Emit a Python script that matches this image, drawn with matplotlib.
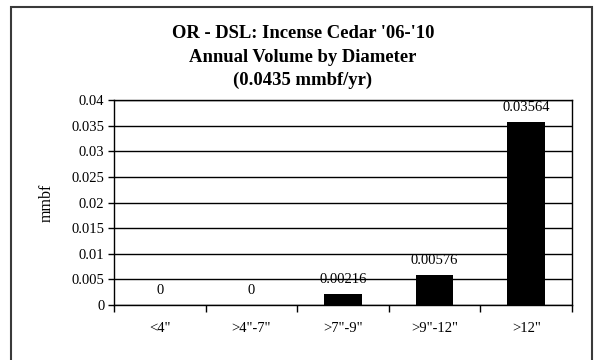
import matplotlib
matplotlib.use("Agg")
import matplotlib.pyplot as plt
from matplotlib.patches import Rectangle
import numpy as np

categories = ['<4"', '>4"-7"', '>7"-9"', '>9"-12"', '>12"']
values = [0, 0, 0.00216, 0.00576, 0.03564]
value_labels = ['0', '0', '0.00216', '0.00576', '0.03564']
yticks = [0, 0.005, 0.01, 0.015, 0.02, 0.025, 0.03, 0.035, 0.04]
ytick_labels = ['0', '0.005', '0.01', '0.015', '0.02', '0.025', '0.03', '0.035', '0.04']
title_lines = ["OR - DSL: Incense Cedar '06-'10", "Annual Volume by Diameter", "(0.0435 mmbf/yr)"]

plt.rcParams['font.family'] = ['Liberation Serif', 'DejaVu Serif']

W, H = 595, 360
fig = plt.figure(figsize=(W / 100, H / 100), dpi=100)
fig.patch.set_facecolor('white')

# outer border
fig.patches.append(Rectangle((11 / W, -0.05), (592 - 11) / W, (H - 7) / H + 0.05,
                             transform=fig.transFigure, fill=False,
                             edgecolor='#3a3a3a', linewidth=1.5))

ax = fig.add_axes([114 / W, (H - 305) / H, (572 - 114) / W, (305 - 100) / H])
x = np.arange(len(categories))
ax.bar(x, values, width=0.41, color='black', zorder=3)
ax.set_xlim(-0.5, len(categories) - 0.5)
ax.set_ylim(0, 0.04)
ax.set_yticks(yticks)
ax.set_yticklabels(ytick_labels, fontsize=10.5)
ax.yaxis.grid(True, color='black', linewidth=1.0, zorder=0)
ax.set_axisbelow(True)

ax.set_xticks(x)
ax.set_xticklabels(categories, fontsize=10.5)
ax.tick_params(axis='x', which='major', length=0, pad=12)
ax.set_xticks(np.arange(len(categories) + 1) - 0.5, minor=True)
ax.tick_params(axis='x', which='minor', length=5, width=1, direction='out')
ax.tick_params(axis='y', length=4, width=1, direction='out', pad=3)

for sp in ax.spines.values():
    sp.set_color('black')
    sp.set_linewidth(1.0)

for xi, v, lab in zip(x, values, value_labels):
    ax.annotate(lab, (xi, v), xytext=(0, 8), textcoords='offset pixels',
                ha='center', va='bottom', fontsize=10.5)

ax.set_ylabel('mmbf', fontsize=11.5, labelpad=12)

ys = [33, 57, 80]
for t, yy in zip(title_lines, ys):
    fig.text(303 / W, 1 - yy / H, t, ha='center', va='center',
             fontsize=13.4, fontweight='bold')

fig.savefig('out.png', dpi=100)
